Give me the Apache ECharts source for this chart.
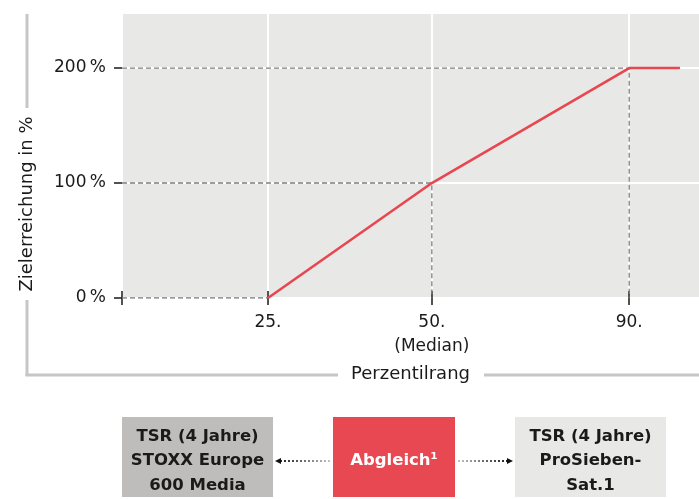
<!DOCTYPE html>
<html>
<head>
<meta charset="utf-8">
<script src="https://cdn.jsdelivr.net/npm/echarts@6/dist/echarts.min.js"></script>
<style>
  html, body { margin: 0; padding: 0; background: #fff; }
  #chart { width: 699px; height: 499px; }
</style>
</head>
<body>
<div id="chart"></div>
<script>
// schematic rank positions along the x axis (0..100 = full plot width)
var rankPos = [25.3, 53.7, 87.9, 96.7];
var rankLabels = ['25.', '50.\n(Median)', '90.'];
var target = [0, 100, 200, 200];
var yTicks = [0, 100, 200];
var boxTexts = ['TSR (4 Jahre)\nSTOXX Europe\n600 Media', 'Abgleich\u00b9', 'TSR (4 Jahre)\nProSieben-\nSat.1'];

var font = '"DejaVu Sans", sans-serif';
var ink = '#1a1a1a';
var frameGray = '#c6c6c6';

var lineData = [];
for (var i = 0; i < rankPos.length; i++) lineData.push([rankPos[i], target[i]]);

// dashed guide lines from the axes to each kink
var guides = [];
for (var i = 0; i < rankLabels.length; i++) {
    guides.push({
        type: 'line', xAxisIndex: 0, yAxisIndex: 0, silent: true, symbol: 'none', z: 3,
        lineStyle: { color: '#7e7e7e', width: 1.3, type: [5, 3] },
        data: [[0, target[i]], [rankPos[i], target[i]], [rankPos[i], 0]]
    });
}

var xTickVals = [0].concat(rankPos.slice(0, rankLabels.length));

function xLabel(v) {
    var k = rankPos.indexOf(v);
    return k >= 0 && k < rankLabels.length ? rankLabels[k] : '';
}

var dom = document.getElementById('chart');
var myChart = echarts.init(dom);

function box(x, w, fill, txt, color) {
    return {
        type: 'group', left: x, top: 417,
        children: [
            { type: 'rect', shape: { x: 0, y: 0, width: w, height: 80 }, style: { fill: fill } },
            { type: 'text', x: w / 2, y: 44, style: {
                text: txt, fill: color, font: 'bold 16.5px ' + font, lineHeight: 24.5,
                align: 'center', verticalAlign: 'middle' } }
        ]
    };
}

var option = {
    animation: false,
    grid: { left: 122, right: 0, top: 14, bottom: 201, show: true, backgroundColor: '#e8e8e7', borderWidth: 0 },
    xAxis: [{
        type: 'value', min: 0, max: 100,
        name: 'Perzentilrang', nameLocation: 'middle', nameGap: 67,
        nameTextStyle: { fontFamily: font, fontSize: 18, color: ink },
        axisLine: { show: false },
        axisTick: { show: true, customValues: xTickVals, length: 7, lineStyle: { color: ink, width: 1.5 } },
        axisLabel: { customValues: rankPos.slice(0, rankLabels.length), formatter: xLabel, margin: 13,
            fontFamily: font, fontSize: 17, color: ink, lineHeight: 24, verticalAlign: 'top' },
        splitLine: { show: true, lineStyle: { color: '#ffffff', width: 2 } }
    }, {
        type: 'value', min: 0, max: 100, position: 'bottom',
        axisLine: { show: false },
        axisTick: { show: true, inside: true, customValues: xTickVals, length: 7, lineStyle: { color: ink, width: 1.5 } },
        axisLabel: { show: false },
        splitLine: { show: false }
    }],
    yAxis: {
        type: 'value', min: 0, max: 247,
        axisLine: { show: false },
        axisTick: { show: true, customValues: yTicks, length: 8, lineStyle: { color: ink, width: 1.5 } },
        axisLabel: { customValues: yTicks, formatter: function (v) { return v + '\u2009%'; }, margin: 16,
            fontFamily: font, fontSize: 17, color: ink },
        splitLine: { show: true, lineStyle: { color: '#ffffff', width: 2 } }
    },
    series: guides.concat([{
        type: 'line', data: lineData, symbol: 'none', z: 5,
        lineStyle: { color: '#e8474f', width: 2.6 }
    }]),
    graphic: [
        { type: 'line', shape: { x1: 27, y1: 14, x2: 27, y2: 108 }, style: { stroke: frameGray, lineWidth: 3 } },
        { type: 'line', shape: { x1: 27, y1: 300, x2: 27, y2: 376 }, style: { stroke: frameGray, lineWidth: 3 } },
        { type: 'line', shape: { x1: 25.5, y1: 375, x2: 338, y2: 375 }, style: { stroke: frameGray, lineWidth: 3 } },
        { type: 'line', shape: { x1: 484, y1: 375, x2: 699, y2: 375 }, style: { stroke: frameGray, lineWidth: 3 } },
        { type: 'text', x: 27, y: 204, rotation: Math.PI / 2,
          style: { text: 'Zielerreichung in %', font: '18px ' + font, fill: ink, align: 'center', verticalAlign: 'middle' } },
        box(122, 151, '#bebdbb', boxTexts[0], ink),
        box(333, 122, '#e84852', boxTexts[1], '#ffffff'),
        box(515, 151, '#e8e8e7', boxTexts[2], ink),
        { type: 'line', shape: { x1: 330, y1: 461, x2: 279, y2: 461 },
          style: { lineWidth: 2, lineDash: [2, 2],
            stroke: new echarts.graphic.LinearGradient(0, 0, 1, 0, [{ offset: 0, color: '#111' }, { offset: 1, color: '#ccc' }]) } },
        { type: 'polygon', shape: { points: [[275, 461], [281, 458], [281, 464]] }, style: { fill: '#111' } },
        { type: 'line', shape: { x1: 458, y1: 461, x2: 509, y2: 461 },
          style: { lineWidth: 2, lineDash: [2, 2],
            stroke: new echarts.graphic.LinearGradient(0, 0, 1, 0, [{ offset: 0, color: '#ccc' }, { offset: 1, color: '#111' }]) } },
        { type: 'polygon', shape: { points: [[513, 461], [507, 458], [507, 464]] }, style: { fill: '#111' } }
    ]
};

if (option && typeof option === "object") {
    myChart.setOption(option, true);
}
</script>
</body>
</html>
